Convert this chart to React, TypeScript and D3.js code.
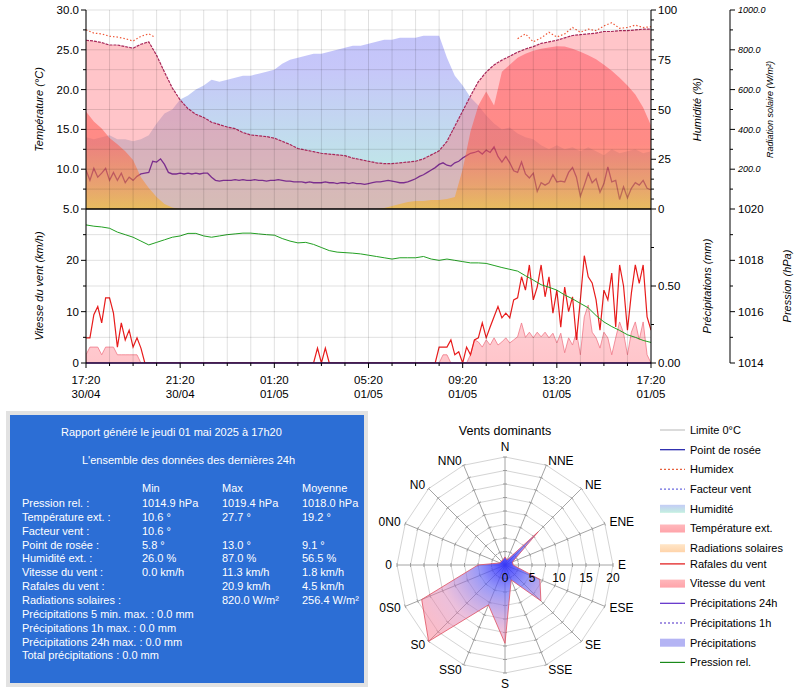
import * as d3 from 'd3';

const START = new Date(2025, 3, 30, 17, 20);
const END = new Date(2025, 4, 1, 17, 20);

// relevés toutes les 20 minutes
const temperature = [
  26.2, 26.1, 25.9, 25.6, 25.6, 25.4, 25.2, 25.7, 26.0,
  24.3, 22.2, 20.2, 18.7, 17.6, 16.9, 16.5, 15.9, 15.6, 15.3, 15.1, 14.6,
  14.3, 14.2, 14.1, 13.9, 13.5, 13.1, 12.6, 12.4, 12.2, 12.0, 11.9, 11.8,
  11.7, 11.4, 11.2, 11.0, 10.8, 10.7, 10.7, 10.8, 10.9, 11.0, 11.3, 11.8,
  12.3, 13.5, 15.4, 17.3, 19.2, 21.0, 22.2, 23.1, 23.7, 24.2, 24.7, 25.1,
  25.4, 25.8, 26.0, 26.2, 26.5, 26.8, 26.9, 27.0, 27.1, 27.3, 27.3, 27.4,
  27.4, 27.5, 27.6, 27.6,
];
const humidity = [
  36, 35, 36, 37, 35, 35, 34, 35, 37,
  43, 48, 50, 55, 57, 60, 62, 65, 64, 65, 66, 67,
  67, 68, 69, 70, 73, 75, 76, 77, 78, 78, 79, 80,
  81, 82, 82, 83, 84, 85, 85, 86, 86, 86, 87, 87,
  87, 76, 67, 62, 56, 52, 47, 43, 40, 41, 38, 36,
  35, 32, 30, 32, 30, 31, 29, 31, 29, 27, 30, 28,
  29, 30, 28, 29,
];
const solarRadiation = [
  490, 440, 405, 357, 325, 290, 246, 160, 105, 60, 25, 8,
  0, 0, 0, 0, 0, 0, 0, 0, 0, 0, 0, 0, 0,
  0, 0, 0, 0, 0, 0, 0, 0, 0, 0, 0, 0, 0,
  5, 15, 25, 35, 40, 40, 45, 45, 50, 60,
  200, 390, 520, 590, 520, 690, 725, 760, 780, 795, 805, 812,
  818, 816, 805, 790, 772, 752, 725, 695, 660, 620, 575, 510, 420,
];
const pressure = [
  1019.38, 1019.33, 1019.3, 1019.25, 1019.1, 1019.0, 1018.9, 1018.75, 1018.6,
  1018.7, 1018.8, 1018.9, 1018.95, 1019.05, 1019.05, 1018.95, 1018.9, 1018.95, 1019.0, 1019.03, 1019.06,
  1019.06, 1019.03, 1019.0, 1018.98, 1018.85, 1018.75, 1018.68, 1018.7, 1018.62, 1018.5, 1018.38, 1018.32,
  1018.3, 1018.28, 1018.25, 1018.2, 1018.15, 1018.1, 1018.05, 1018.1, 1018.1, 1018.1, 1018.15, 1018.05,
  1018.0, 1018.05, 1018.0, 1017.95, 1017.9, 1017.9, 1017.88, 1017.8, 1017.72, 1017.65, 1017.58, 1017.4,
  1017.23, 1017.05, 1016.95, 1016.84, 1016.65, 1016.5, 1016.32, 1016.15, 1015.85, 1015.6, 1015.42, 1015.27,
  1015.1, 1015.0, 1014.88, 1014.8,
];

// relevés toutes les 10 minutes
const dewPoint = [
  9.9, 8.6, 10.1, 9.0, 9.5, 10.1, 8.6, 9.6, 8.6, 9.5,
  8.3, 9.0, 8.6, 9.1, 9.4, 9.5, 9.6, 11.0, 10.9, 11.3,
  10.6, 9.6, 9.4, 9.4, 9.5, 9.4, 9.5, 9.4, 9.5, 9.4,
  9.5, 9.5, 9.0, 8.6, 8.5, 8.6, 8.6, 8.6, 8.7, 8.6,
  8.7, 8.6, 8.6, 8.7, 8.6, 8.6, 8.5, 8.6, 8.6, 8.7,
  8.6, 8.5, 8.5, 8.4, 8.4, 8.4, 8.3, 8.4, 8.3, 8.3,
  8.3, 8.4, 8.3, 8.3, 8.2, 8.3, 8.3, 8.2, 8.3, 8.2,
  8.2, 8.1, 8.2, 8.3, 8.4, 8.4, 8.5, 8.6, 8.5, 8.4,
  8.3, 8.3, 8.4, 8.6, 8.8, 9.1, 9.3, 9.6, 9.9, 10.2,
  10.6, 10.8, 10.5, 10.4, 10.8, 11.0, 11.4, 11.7, 12.0, 12.1,
  12.3, 11.9, 12.4, 12.1, 12.8, 11.6, 10.9, 11.6, 10.8, 9.8,
  9.6, 10.9, 9.4, 8.9, 9.5, 7.2, 8.3, 8.0, 8.3, 9.3,
  8.4, 8.5, 8.4, 9.6, 10.2, 9.0, 6.6, 8.0, 9.5, 8.3,
  8.8, 7.1, 8.2, 10.3, 8.4, 8.6, 6.2, 7.8, 6.4, 7.6,
  8.3, 8.0, 8.6, 7.6, 7.4,
];
const windGust = [
  4.9, 4.9, 9.4, 11.0, 7.8, 12.7, 12.7, 9.7, 3.1, 7.8,
  4.5, 6.4, 3.1, 4.9, 2.9, 0, 0, 0, 0, 0,
  0, 0, 0, 0, 0, 0, 0, 0, 0, 0,
  0, 0, 0, 0, 0, 0, 0, 0, 0, 0,
  0, 0, 0, 0, 0, 0, 0, 0, 0, 0,
  0, 0, 0, 0, 0, 0, 0, 0, 0, 2.9,
  0, 2.9, 0, 0, 0, 0, 0, 0, 0, 0,
  0, 0, 0, 0, 0, 0, 0, 0, 0, 0,
  0, 0, 0, 0, 0, 0, 0, 0, 0, 0,
  3.1, 3.1, 3.1, 4.5, 1.6, 2.2, 0, 3.1, 1.6, 4.5,
  4.9, 7.8, 4.9, 7.0, 9.0, 11.0, 8.8, 9.7, 8.8, 12.3,
  12.7, 16.8, 14.2, 19.1, 12.3, 14.8, 19.1, 12.9, 16.8, 9.7,
  14.2, 7.0, 14.8, 10.0, 12.9, 4.5, 12.3, 20.9, 16.8, 15.6,
  12.3, 6.4, 14.2, 12.3, 17.5, 7.0, 19.1, 15.0, 6.4, 13.6,
  19.1, 15.5, 19.1, 9.0, 6.4,
];
const windSpeed = [
  1.6, 3.1, 3.1, 3.1, 1.6, 3.1, 3.1, 3.1, 1.6, 1.6,
  1.6, 1.6, 1.6, 1.6, 0, 0, 0, 0, 0, 0,
  0, 0, 0, 0, 0, 0, 0, 0, 0, 0,
  0, 0, 0, 0, 0, 0, 0, 0, 0, 0,
  0, 0, 0, 0, 0, 0, 0, 0, 0, 0,
  0, 0, 0, 0, 0, 0, 0, 0, 0, 0,
  0, 0, 0, 0, 0, 0, 0, 0, 0, 0,
  0, 0, 0, 0, 0, 0, 0, 0, 0, 0,
  0, 0, 0, 0, 0, 0, 0, 0, 0, 0,
  0, 1.6, 1.6, 0, 0, 0, 0, 0, 1.6, 4.5,
  4.1, 3.1, 4.5, 3.5, 4.9, 3.5, 4.1, 4.9, 3.9, 4.5,
  5.1, 7.8, 5.0, 6.0, 4.9, 6.0, 5.1, 6.0, 4.9, 5.8,
  3.9, 5.8, 2.0, 4.9, 3.5, 6.0, 1.6, 9.0, 11.3, 6.0,
  4.9, 2.9, 6.0, 4.9, 1.6, 4.9, 8.0, 5.8, 1.6, 6.0,
  8.0, 4.5, 8.0, 1.6, 0,
];

// humidex, [minutes depuis 17h20, valeur]
const humidexEvening: [number, number][] = [
  [0, 27.5], [20, 27.1], [40, 27.0], [60, 26.7], [80, 26.6],
  [100, 26.4], [120, 26.1], [140, 26.7], [160, 27.0], [175, 26.6],
];
const humidexAfternoon: [number, number][] = [
  [1100, 26.4], [1120, 27.0], [1140, 26.0], [1160, 26.5], [1180, 27.2], [1200, 26.6],
  [1220, 27.0], [1240, 27.8], [1260, 27.2], [1280, 27.6], [1300, 27.4], [1320, 28.0],
  [1340, 28.4], [1360, 27.7], [1380, 27.8], [1400, 28.1], [1420, 27.8], [1440, 27.9],
];
const rain24h: [number, number][] = [[0, 0], [1440, 0]];

// rose des vents
const windDirections = ['N', 'NNE', 'NE', 'ENE', 'E', 'ESE', 'SE', 'SSE', 'S', 'SS0', 'S0', '0S0', '0', '0N0', 'N0', 'NN0'];
const windDirValues = [1.5, 1, 8.7, 1.5, 1.5, 7, 9.4, 3, 14.5, 8, 20, 16.7, 5, 1, 1, 1];
const roseRings = [2.5, 5, 7.5, 10, 12.5, 15, 17.5, 20];
const roseLabels = [0, 5, 10, 15, 20];

// rapport
const reportTitle = 'Rapport généré le jeudi 01 mai 2025 à 17h20';
const reportSubtitle = "L'ensemble des données des dernières 24h";
const statHeaders = ['Min', 'Max', 'Moyenne'];
const statLabels = ['Pression rel. :', 'Température ext. :', 'Facteur vent :', 'Point de rosée :', 'Humidité ext. :', 'Vitesse du vent :', 'Rafales du vent :', 'Radiations solaires :'];
const statMin = ['1014.9 hPa', '10.6 °', '10.6 °', '5.8 °', '26.0 %', '0.0 km/h', '', ''];
const statMax = ['1019.4 hPa', '27.7 °', '', '13.0 °', '87.0 %', '11.3 km/h', '20.9 km/h', '820.0 W/m²'];
const statMean = ['1018.0 hPa', '19.2 °', '', '9.1 °', '56.5 %', '1.8 km/h', '4.5 km/h', '256.4 W/m²'];
const rainLines = ['Précipitations 5 min. max. : 0.0 mm', 'Précipitations 1h max. : 0.0 mm', 'Précipitations 24h max. : 0.0 mm', 'Total précipitations : 0.0 mm'];

const legendLabels = ['Limite 0°C', 'Point de rosée', 'Humidex', 'Facteur vent', 'Humidité', 'Température ext.', 'Radiations solaires', 'Rafales du vent', 'Vitesse du vent', 'Précipitations 24h', 'Précipitations 1h', 'Précipitations', 'Pression rel.'];
const legendKinds = ['line', 'line', 'dash', 'dash', 'box', 'box', 'box', 'line', 'box', 'line', 'dash', 'box', 'line'];
const legendColors = ['#c4c4c4', '#1a1aa8', '#e8603c', '#6a6ae0', 'url(#lgHum)', 'url(#lgTemp)', 'url(#lgSol)', '#e01010', 'url(#lgTemp)', '#5a28c8', '#4a28c8', '#b4b4f4', '#1a8a1a'];

const FONT = '"Liberation Sans", Arial, sans-serif';

export default function App() {
  const X0 = 86, X1 = 651, YT = 10, YM = 209, YB = 363;
  const x = d3.scaleTime().domain([START, END]).range([X0, X1]);
  const at = (m: number) => x(d3.timeMinute.offset(START, m));
  const yTemp = d3.scaleLinear().domain([5, 30]).range([YM, YT]);
  const yHum = d3.scaleLinear().domain([0, 100]).range([YM, YT]);
  const ySol = d3.scaleLinear().domain([0, 1000]).range([YM, YT]);
  const yWind = d3.scaleLinear().domain([0, 30]).range([YB, YM]);
  const yRain = d3.scaleLinear().domain([0, 1]).range([YB, YM]);
  const yPres = d3.scaleLinear().domain([1014, 1020]).range([YB, YM]);

  const area20 = (ys: d3.ScaleLinear<number, number>) =>
    d3.area<number>().x((_, i) => at(i * 20)).y0(YM).y1(d => ys(d));
  const line20 = (ys: d3.ScaleLinear<number, number>) =>
    d3.line<number>().x((_, i) => at(i * 20)).y(d => ys(d));
  const line10 = (ys: d3.ScaleLinear<number, number>) =>
    d3.line<number>().x((_, i) => at(i * 10)).y(d => ys(d));
  const pairLine = (ys: d3.ScaleLinear<number, number>) =>
    d3.line<[number, number]>().x(d => at(d[0])).y(d => ys(d[1]));

  const windArea = d3.area<number>().x((_, i) => at(i * 10)).y0(YB).y1(d => yWind(d));

  const hours = d3.range(0, 25).map(h => d3.timeHour.offset(START, h));
  const fmtH = d3.timeFormat('%H:%M');
  const fmtD = d3.timeFormat('%d/%m');

  const tempTicks = d3.range(5, 30.01, 2.5);
  const windTicks = d3.range(0, 30, 5);
  const humTicks = d3.range(0, 100.01, 5);
  const rainTicks = d3.range(0, 1, 0.25);
  const solTicks = d3.range(100, 1000.01, 100);
  const presTicks = d3.range(1014, 1020.01, 1);

  // rose
  const RCX = 505, RCY = 565;
  const r = d3.scaleLinear().domain([0, 20]).range([0, 108]);
  const ang = (i: number) => (i / windDirections.length) * 2 * Math.PI;
  const pt = (i: number, rad: number): [number, number] => [RCX + rad * Math.sin(ang(i)), RCY - rad * Math.cos(ang(i))];
  const ring = (v: number) => windDirections.map((_, i) => pt(i, r(v)).join(',')).join(' ');
  const rosePath = d3.lineRadial<number>().angle((_, i) => ang(i)).radius(d => r(d)).curve(d3.curveLinearClosed)(windDirValues);

  const axisText = { fontSize: 11.5, fill: '#000' };

  return (
    <div style={{ position: 'absolute', left: 0, top: 0 }}>
      <svg width={800} height={700} style={{ display: 'block', fontFamily: FONT, background: '#fff' }}>
        <defs>
          <clipPath id="clipTop"><rect x={X0} y={YT} width={X1 - X0} height={YM - YT} /></clipPath>
          <clipPath id="clipBot"><rect x={X0} y={YM} width={X1 - X0} height={YB - YM} /></clipPath>
          <linearGradient id="gHum" gradientUnits="userSpaceOnUse" x1={0} y1={YT} x2={0} y2={YM}>
            <stop offset="0" stopColor="#5c5cf0" stopOpacity={0.38} />
            <stop offset="0.3" stopColor="#6a6cf0" stopOpacity={0.38} />
            <stop offset="1" stopColor="#50dcb0" stopOpacity={0.38} />
          </linearGradient>
          <linearGradient id="gSol" gradientUnits="userSpaceOnUse" x1={0} y1={ySol(820)} x2={0} y2={YM}>
            <stop offset="0" stopColor="#ff4c5c" stopOpacity={0.5} />
            <stop offset="0.6" stopColor="#ff5646" stopOpacity={0.52} />
            <stop offset="0.85" stopColor="#f88e30" stopOpacity={0.53} />
            <stop offset="1" stopColor="#f5bc18" stopOpacity={0.55} />
          </linearGradient>
          <linearGradient id="gWind" gradientUnits="userSpaceOnUse" x1={0} y1={yWind(12)} x2={0} y2={YB}>
            <stop offset="0" stopColor="#ff8090" stopOpacity={0.35} />
            <stop offset="1" stopColor="#ff8c96" stopOpacity={0.5} />
          </linearGradient>
          <radialGradient id="gRose" gradientUnits="userSpaceOnUse" cx={0} cy={0} r={r(20)}>
            <stop offset="0" stopColor="#2c2cff" stopOpacity={0.9} />
            <stop offset="0.25" stopColor="#6464f4" stopOpacity={0.65} />
            <stop offset="0.6" stopColor="#d880b8" stopOpacity={0.5} />
            <stop offset="1" stopColor="#ff7a88" stopOpacity={0.5} />
          </radialGradient>
          <linearGradient id="lgHum" x1="0" y1="0" x2="0" y2="1">
            <stop offset="0" stopColor="#c4ccf6" />
            <stop offset="1" stopColor="#c4f0e0" />
          </linearGradient>
          <linearGradient id="lgTemp" x1="0" y1="0" x2="0" y2="1">
            <stop offset="0" stopColor="#ffb8bc" />
            <stop offset="1" stopColor="#ffa4aa" />
          </linearGradient>
          <linearGradient id="lgSol" x1="0" y1="0" x2="0" y2="1">
            <stop offset="0" stopColor="#ffe6c8" />
            <stop offset="1" stopColor="#ffd4aa" />
          </linearGradient>
        </defs>

        {/* panneau haut */}
        <g clipPath="url(#clipTop)">
          <path d={area20(yHum)(humidity) ?? ''} fill="url(#gHum)" />
          <path d={line10(yTemp)(dewPoint) ?? ''} fill="none" stroke="#2a0ca0" strokeWidth={1.3} />
          <path d={area20(yTemp)(temperature) ?? ''} fill="#ff6670" fillOpacity={0.38} />
          <path d={area20(ySol)(solarRadiation) ?? ''} fill="url(#gSol)" />
          <path d={line20(yTemp)(temperature) ?? ''} fill="none" stroke="#a8285a" strokeWidth={1.2} strokeDasharray="3,1" />
          <path d={pairLine(yTemp)(humidexEvening) ?? ''} fill="none" stroke="#f05a3a" strokeWidth={1.2} strokeDasharray="1.5,2" />
          <path d={pairLine(yTemp)(humidexAfternoon) ?? ''} fill="none" stroke="#f05a3a" strokeWidth={1.2} strokeDasharray="1.5,2" />
        </g>

        {/* panneau bas */}
        <g clipPath="url(#clipBot)">
          <path d={windArea(windSpeed) ?? ''} fill="url(#gWind)" stroke="#f07888" strokeWidth={0.8} />
          <path d={line10(yWind)(windGust) ?? ''} fill="none" stroke="#e81c1c" strokeWidth={1.2} />
          <path d={line20(yPres)(pressure) ?? ''} fill="none" stroke="#22a022" strokeWidth={1} />
        </g>
        <path d={pairLine(yRain)(rain24h) ?? ''} fill="none" stroke="#7a30c0" strokeWidth={1.6} />

        {/* grille */}
        <g stroke="#000" strokeOpacity={0.12} strokeWidth={1}>
          {hours.map((h, i) => <line key={'v' + i} x1={x(h)} x2={x(h)} y1={YT} y2={YB} />)}
          {tempTicks.map(t => <line key={'t' + t} x1={X0} x2={X1} y1={yTemp(t)} y2={yTemp(t)} />)}
          {windTicks.map(t => <line key={'w' + t} x1={X0} x2={X1} y1={yWind(t)} y2={yWind(t)} />)}
        </g>

        {/* axes */}
        <g stroke="#000" strokeWidth={1}>
          <line x1={X0} x2={X0} y1={YT} y2={YB} />
          <line x1={X1} x2={X1} y1={YT} y2={YB} />
          <line x1={730} x2={730} y1={YT} y2={YB} />
          <line x1={X0} x2={X1} y1={YM} y2={YM} strokeWidth={1.6} />
          <line x1={X0} x2={X1} y1={YB} y2={YB} />
          {tempTicks.map(t => <line key={'tt' + t} x1={t % 5 === 0 ? X0 - 5 : X0 - 3} x2={X0} y1={yTemp(t)} y2={yTemp(t)} />)}
          {windTicks.map(t => <line key={'wt' + t} x1={t % 10 === 0 ? X0 - 5 : X0 - 3} x2={X0} y1={yWind(t)} y2={yWind(t)} />)}
          {humTicks.map(t => <line key={'ht' + t} x1={X1} x2={t % 25 === 0 ? X1 + 5 : X1 + 3} y1={yHum(t)} y2={yHum(t)} />)}
          {rainTicks.map(t => <line key={'rt' + t} x1={X1} x2={t % 0.5 === 0 ? X1 + 5 : X1 + 3} y1={yRain(t)} y2={yRain(t)} />)}
          {solTicks.map(t => <line key={'st' + t} x1={730} x2={t % 200 === 0 ? 735 : 733} y1={ySol(t)} y2={ySol(t)} />)}
          {presTicks.map(t => <line key={'pt' + t} x1={730} x2={t % 2 === 0 ? 735 : 733} y1={yPres(t)} y2={yPres(t)} />)}
          {hours.map((h, i) => <line key={'xt' + i} x1={x(h)} x2={x(h)} y1={YB} y2={YB + (i % 4 === 0 ? 5 : 3)} />)}
        </g>

        <g {...axisText}>
          {tempTicks.filter(t => t % 5 === 0).map(t => (
            <text key={'tl' + t} x={X0 - 7} y={yTemp(t)} dy="0.35em" textAnchor="end">{t.toFixed(1)}</text>
          ))}
          {windTicks.filter(t => t % 10 === 0).map(t => (
            <text key={'wl' + t} x={X0 - 7} y={yWind(t)} dy="0.35em" textAnchor="end">{t}</text>
          ))}
          {humTicks.filter(t => t % 25 === 0).map(t => (
            <text key={'hl' + t} x={X1 + 7} y={yHum(t)} dy="0.35em">{t}</text>
          ))}
          {rainTicks.filter(t => t % 0.5 === 0).map(t => (
            <text key={'rl' + t} x={X1 + 7} y={yRain(t)} dy="0.35em">{t.toFixed(2)}</text>
          ))}
          {presTicks.filter(t => t % 2 === 0).map(t => (
            <text key={'pl' + t} x={738} y={yPres(t)} dy="0.35em">{t}</text>
          ))}
          {hours.filter((_, i) => i % 4 === 0).map((h, i) => (
            <g key={'xl' + i}>
              <text x={x(h)} y={384} textAnchor="middle">{fmtH(h)}</text>
              <text x={x(h)} y={398} textAnchor="middle">{fmtD(h)}</text>
            </g>
          ))}
        </g>
        <g fontSize={9} fontStyle="italic">
          {solTicks.filter(t => t % 200 === 0).map(t => (
            <text key={'sl' + t} x={738} y={ySol(t)} dy="0.35em">{t.toFixed(1)}</text>
          ))}
        </g>

        {/* titres d'axes */}
        <g fontStyle="italic" fontSize={11} textAnchor="middle">
          <text transform={`translate(39,${(YT + YM) / 2}) rotate(-90)`} dy="0.35em">Température (°C)</text>
          <text transform={`translate(39,${(YM + YB) / 2}) rotate(-90)`} dy="0.35em">Vitesse du vent (km/h)</text>
          <text transform={`translate(697,${(YT + YM) / 2}) rotate(-90)`} dy="0.35em">Humidité (%)</text>
          <text transform={`translate(707,${(YM + YB) / 2}) rotate(-90)`} dy="0.35em">Précipitations (mm)</text>
          <text transform={`translate(787,${(YM + YB) / 2}) rotate(-90)`} dy="0.35em">Pression (hPa)</text>
          <text transform={`translate(770,${(YT + YM) / 2}) rotate(-90)`} dy="0.35em" fontSize={9}>Radiation solaire (W/m²)</text>
        </g>

        {/* rapport */}
        <rect x={6} y={411} width={362} height={276} fill="#e2e2e2" />
        <rect x={10} y={415} width={354} height={268} fill="#2c6ed5" />
        <g fill="#fff" fontSize={11}>
          <text x={61} y={436}>{reportTitle}</text>
          <text x={82} y={464}>{reportSubtitle}</text>
          {statHeaders.map((h, i) => <text key={h} x={142 + i * 80} y={492}>{h}</text>)}
          {statLabels.map((l, i) => (
            <g key={l}>
              <text x={22} y={507 + i * 13.85}>{l}</text>
              <text x={142} y={507 + i * 13.85}>{statMin[i]}</text>
              <text x={222} y={507 + i * 13.85}>{statMax[i]}</text>
              <text x={302} y={507 + i * 13.85}>{statMean[i]}</text>
            </g>
          ))}
          {rainLines.map((l, i) => <text key={l} x={22} y={507 + (statLabels.length + i) * 13.85}>{l}</text>)}
        </g>

        {/* rose des vents */}
        <text x={RCX} y={435} textAnchor="middle" fontSize={12.5}>Vents dominants</text>
        <g fill="none" stroke="#d4d4d4" strokeWidth={1}>
          {roseRings.map(v => <polygon key={'rg' + v} points={ring(v)} />)}
        </g>
        <g stroke="#9a9a9a" strokeWidth={0.9}>
          {windDirections.map((d, i) => {
            const [ex, ey] = pt(i, r(20));
            return <line key={'sp' + d} x1={RCX} y1={RCY} x2={ex} y2={ey} />;
          })}
          {windDirections.map((d, i) =>
            roseRings.map(v => {
              const [px, py] = pt(i, r(v));
              const c = Math.cos(ang(i)) * 2, s = Math.sin(ang(i)) * 2;
              return <line key={'tk' + d + v} x1={px - c} y1={py - s} x2={px + c} y2={py + s} />;
            })
          )}
        </g>
        <path d={rosePath ?? ''} transform={`translate(${RCX},${RCY})`} fill="url(#gRose)" stroke="#e05060" strokeOpacity={0.8} strokeWidth={1} />
        <g fontSize={12}>
          {roseLabels.map(v => <text key={'rl' + v} x={RCX + r(v)} y={582} textAnchor="middle">{v}</text>)}
          {windDirections.map((d, i) => {
            const [lx, ly] = pt(i, r(20) + 5);
            const s = Math.sin(ang(i));
            const anchor = Math.abs(s) < 0.01 ? 'middle' : s > 0 ? 'start' : 'end';
            const dy = i === 0 ? '-0.1em' : i === 8 ? '0.85em' : '0.35em';
            return <text key={'dl' + d} x={lx} y={ly} dy={dy} textAnchor={anchor}>{d}</text>;
          })}
        </g>

        {/* légende */}
        <g fontSize={11}>
          {legendLabels.map((l, i) => {
            const y = 430 + i * 19.7 - (i >= 7 ? 4 : 0);
            const kind = legendKinds[i];
            return (
              <g key={l}>
                {kind === 'box'
                  ? <rect x={660} y={y - 4} width={25} height={8} fill={legendColors[i]} />
                  : <line x1={660} x2={685} y1={y} y2={y} stroke={legendColors[i]} strokeWidth={1.2} strokeDasharray={kind === 'dash' ? '2,2' : undefined} />}
                <text x={690} y={y} dy="0.35em">{l}</text>
              </g>
            );
          })}
        </g>
      </svg>
    </div>
  );
}
